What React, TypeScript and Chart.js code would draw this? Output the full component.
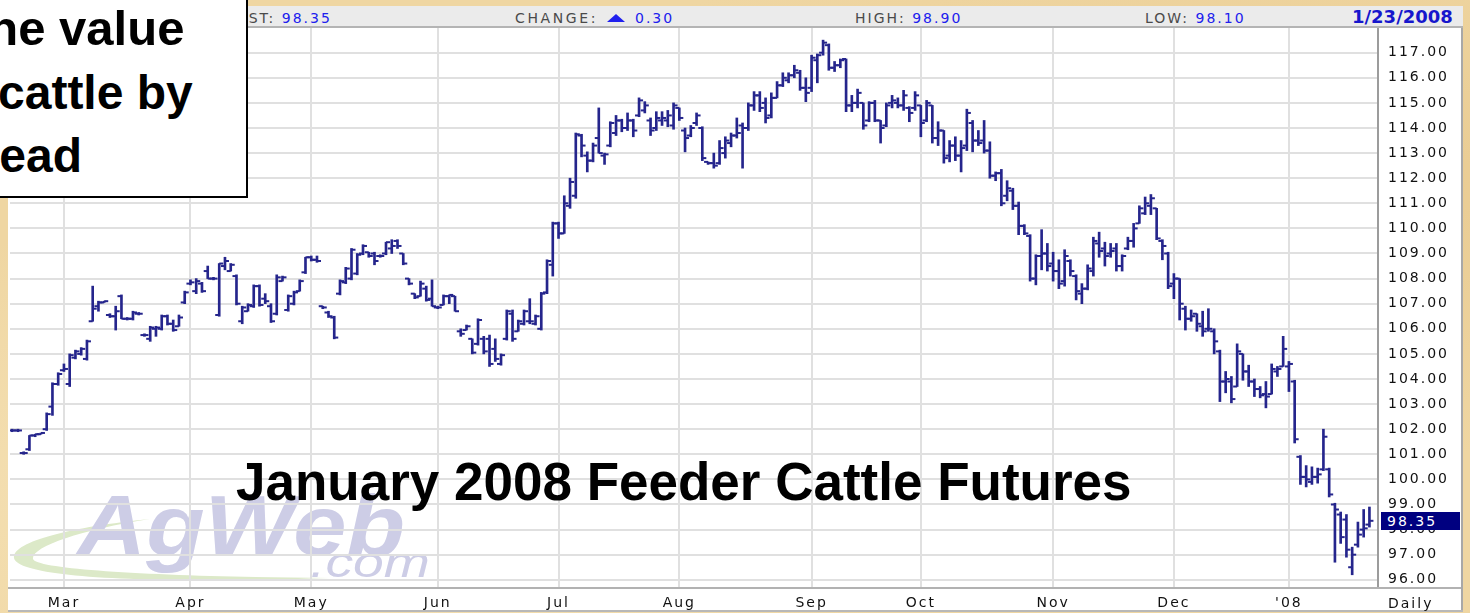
import React, { useEffect, useRef } from 'react';
import { Chart, registerables } from 'chart.js';

Chart.register(...registerables);

// Daily OHLC, January 2008 Feeder Cattle futures (trading-day index 0 = mid Feb 2007)
const opens = [
  101.95, 101.95, 101.05, 101.2, 101.75, 101.8, 102.0, 102.9, 103.8, 104.35,
  103.8, 104.85, 105.0, 104.8, 106.3, 106.9, 107.05, 106.55, 106.5, 107.3,
  106.4, 106.4, 106.6, 105.75, 105.6, 106.0, 106.0, 106.5, 106.2, 106.1,
  107.05, 107.8, 107.5, 107.8, 108.3, 108.0, 106.55, 108.5, 108.3, 108.1,
  106.3, 106.7, 106.9, 107.7, 107.2, 106.9, 106.6, 107.9, 106.75, 107.0,
  107.5, 108.25, 108.85, 108.75, 106.9, 106.65, 106.45, 107.4, 107.85, 108.0,
  108.2, 109.0, 109.05, 109.0, 108.9, 109.0, 109.2, 109.5, 109.0, 108.0,
  107.4, 107.3, 107.6, 107.2, 106.85, 106.95, 107.3, 107.3, 105.9, 105.95,
  105.6, 105.4, 105.6, 105.6, 105.2, 104.6, 105.6, 106.6, 105.9, 106.2,
  106.3, 106.2, 106.0, 107.45, 108.55, 110.2, 109.8, 110.9, 111.3, 113.7,
  112.9, 112.7, 113.6, 112.9, 113.3, 113.8, 114.3, 114.0, 114.3, 114.5,
  114.7, 114.3, 114.0, 114.3, 114.3, 114.1, 114.8, 113.9, 113.7, 114.2,
  114.0, 112.65, 112.6, 112.6, 113.0, 113.4, 113.7, 114.1, 114.0, 114.9,
  115.3, 115.0, 114.5, 115.2, 115.7, 115.9, 116.1, 116.2, 115.6, 115.6,
  116.7, 117.0, 117.3, 116.4, 116.5, 116.75, 114.9, 115.0, 115.0, 114.3,
  115.0, 114.3, 114.1, 115.0, 115.0, 114.9, 114.8, 114.8, 114.9, 114.3,
  114.9, 113.6, 113.9, 112.9, 113.3, 112.9, 113.3, 114.2, 113.5, 113.5,
  113.1, 112.1, 112.2, 111.3, 111.5, 110.9, 110.1, 109.7, 108.0, 108.9,
  109.0, 108.6, 108.3, 107.9, 108.7, 108.1, 107.4, 107.6, 108.3, 109.4,
  109.2, 109.0, 109.2, 108.5, 109.2, 109.5, 110.2, 110.6, 110.9, 110.8,
  109.5, 109.0, 107.8, 108.0, 106.8, 106.4, 106.6, 106.1, 106.0, 105.9,
  105.1, 103.9, 103.9, 103.7, 105.0, 104.3, 103.9, 103.6, 103.4, 103.4,
  104.3, 104.5, 104.5, 103.9, 100.9, 100.1, 99.9, 100.1, 100.4, 100.4,
  99.0, 98.6, 98.4, 96.5, 97.4, 98.0, 98.2,
];

const highs = [
  102.0, 102.0, 101.1, 101.75, 101.8, 101.85, 102.65, 103.85, 104.25, 104.6,
  105.0, 105.15, 105.25, 105.55, 107.7, 107.1, 107.1, 106.6, 106.9, 107.35,
  106.45, 106.7, 106.65, 105.8, 106.1, 106.1, 106.55, 106.55, 106.35, 106.55,
  107.5, 107.95, 108.0, 107.85, 108.5, 108.05, 108.6, 108.85, 108.6, 108.15,
  106.9, 107.0, 107.75, 107.75, 107.4, 107.0, 108.15, 108.1, 107.35, 107.5,
  107.95, 108.85, 108.9, 108.9, 106.9, 106.7, 106.5, 107.95, 108.45, 109.2,
  109.0, 109.35, 109.05, 109.05, 108.95, 109.45, 109.55, 109.55, 109.0, 108.0,
  107.4, 107.9, 107.7, 107.95, 106.9, 107.35, 107.35, 107.3, 106.0, 106.15,
  105.6, 106.4, 105.7, 105.75, 105.6, 105.0, 106.75, 106.75, 106.35, 106.75,
  107.2, 106.55, 107.45, 108.75, 110.25, 110.25, 111.3, 112.0, 113.8, 113.75,
  113.05, 113.4, 114.8, 113.0, 114.25, 114.5, 114.35, 114.6, 114.35, 115.2,
  115.05, 114.4, 114.65, 114.65, 114.7, 115.0, 114.8, 114.0, 114.1, 114.6,
  114.05, 112.65, 113.0, 113.5, 113.65, 113.8, 114.4, 114.2, 115.0, 115.45,
  115.45, 115.2, 115.4, 115.85, 116.2, 116.2, 116.5, 116.3, 116.0, 116.9,
  116.95, 117.5, 117.35, 116.65, 116.75, 116.75, 115.3, 115.55, 115.0, 115.05,
  115.1, 114.3, 115.0, 115.3, 115.2, 115.5, 114.85, 115.45, 114.9, 115.1,
  114.9, 114.25, 113.9, 113.5, 113.65, 113.5, 114.75, 114.3, 113.9, 114.3,
  113.45, 112.25, 112.35, 111.9, 111.6, 111.05, 110.15, 109.75, 108.95, 109.95,
  109.4, 109.05, 108.75, 109.15, 108.75, 108.15, 107.8, 108.55, 109.65, 109.85,
  109.45, 109.4, 109.4, 108.95, 109.65, 110.2, 110.9, 111.25, 111.35, 110.8,
  109.55, 109.05, 108.2, 108.0, 106.9, 106.75, 106.6, 106.7, 106.8, 106.0,
  105.15, 104.3, 104.1, 105.4, 105.0, 104.55, 104.0, 103.7, 103.9, 104.6,
  104.5, 105.7, 104.7, 103.95, 100.95, 100.55, 100.5, 100.45, 102.0, 100.45,
  99.05, 98.7, 98.6, 97.3, 98.3, 98.8, 98.9,
];

const lows = [
  101.9, 101.9, 101.0, 101.15, 101.7, 101.8, 101.95, 102.55, 103.75, 104.3,
  103.7, 104.8, 104.95, 104.75, 106.3, 106.7, 107.05, 106.45, 105.95, 106.4,
  106.35, 106.35, 106.55, 105.7, 105.5, 105.7, 105.95, 106.15, 105.9, 106.1,
  107.0, 107.75, 107.4, 107.45, 108.0, 107.95, 106.5, 108.35, 108.3, 106.95,
  106.2, 106.7, 106.85, 106.9, 107.0, 106.25, 106.55, 107.9, 106.7, 106.95,
  107.5, 108.2, 108.7, 108.65, 106.8, 106.45, 105.6, 107.35, 107.8, 107.95,
  108.15, 108.95, 108.85, 108.55, 108.85, 108.95, 109.0, 109.2, 108.55, 107.75,
  107.2, 107.3, 107.1, 106.9, 106.8, 106.95, 107.0, 106.7, 105.7, 105.95,
  105.0, 105.35, 105.0, 104.5, 104.7, 104.55, 105.55, 105.5, 105.9, 106.15,
  106.2, 106.15, 105.95, 107.4, 108.1, 109.6, 109.8, 110.8, 111.2, 112.85,
  112.25, 112.65, 113.0, 112.55, 113.25, 113.7, 113.85, 113.9, 113.65, 114.45,
  114.6, 113.7, 113.9, 114.1, 114.05, 113.95, 114.3, 113.05, 113.65, 114.1,
  112.7, 112.55, 112.4, 112.55, 112.8, 113.25, 113.6, 112.4, 113.9, 114.7,
  114.65, 114.2, 114.4, 115.2, 115.65, 115.8, 116.0, 115.5, 115.05, 115.45,
  115.8, 116.9, 116.3, 116.25, 116.4, 114.65, 114.65, 114.8, 113.95, 114.25,
  114.25, 113.4, 114.05, 114.8, 114.8, 114.7, 114.25, 114.7, 113.65, 114.25,
  113.4, 113.3, 112.6, 112.65, 112.7, 112.25, 113.1, 113.05, 113.3, 113.0,
  112.0, 111.9, 110.9, 111.1, 110.75, 109.75, 109.75, 107.9, 107.75, 108.35,
  108.3, 107.9, 107.6, 107.7, 108.1, 107.15, 107.0, 107.55, 108.1, 108.85,
  108.5, 108.85, 108.3, 108.3, 109.15, 109.25, 110.2, 110.55, 110.55, 109.55,
  108.75, 107.6, 107.2, 106.35, 105.95, 106.3, 105.9, 105.7, 105.9, 105.0,
  103.1, 103.45, 103.05, 103.7, 103.95, 103.7, 103.3, 103.25, 102.85, 103.4,
  104.1, 104.5, 103.5, 101.45, 99.8, 99.7, 99.8, 99.85, 100.35, 99.3,
  96.7, 97.45, 96.9, 96.2, 97.3, 97.7, 98.1,
];

const closes = [
  101.95, 101.95, 101.05, 101.75, 101.8, 101.85, 102.6, 103.8, 104.2, 104.4,
  104.95, 105.1, 105.2, 105.5, 106.8, 107.05, 107.1, 106.5, 106.7, 106.4,
  106.4, 106.65, 106.6, 105.75, 106.05, 106.05, 106.5, 106.2, 105.95, 106.45,
  107.45, 107.85, 107.9, 107.5, 108.0, 108.0, 108.6, 108.7, 108.55, 107.0,
  106.85, 106.95, 107.7, 106.95, 107.1, 106.3, 108.05, 108.05, 107.3, 107.45,
  107.9, 108.85, 108.75, 108.7, 106.85, 106.5, 105.65, 107.9, 108.4, 109.15,
  108.95, 109.3, 108.9, 108.7, 108.9, 109.45, 109.3, 109.3, 108.6, 107.8,
  107.25, 107.8, 107.15, 106.9, 106.85, 107.3, 107.35, 106.7, 105.8, 106.1,
  105.05, 106.35, 105.1, 104.6, 104.8, 104.95, 106.7, 105.6, 106.3, 106.7,
  106.3, 106.5, 107.4, 108.7, 110.2, 109.8, 111.0, 111.85, 113.75, 113.3,
  112.7, 113.3, 113.0, 112.95, 114.2, 114.3, 114.0, 114.3, 113.9, 115.1,
  114.9, 113.9, 114.4, 114.4, 114.5, 114.9, 114.4, 113.6, 114.0, 114.5,
  112.8, 112.6, 112.5, 113.2, 113.5, 113.7, 113.8, 114.0, 114.9, 115.3,
  114.8, 114.4, 115.2, 115.7, 116.0, 116.1, 116.3, 115.6, 115.4, 116.8,
  116.9, 117.4, 116.4, 116.5, 116.7, 114.9, 115.0, 115.4, 114.1, 115.0,
  114.3, 114.0, 114.9, 115.1, 114.9, 115.3, 114.6, 115.3, 114.2, 115.0,
  113.6, 113.9, 112.8, 113.3, 112.9, 113.2, 114.6, 113.5, 113.4, 113.1,
  112.1, 112.2, 111.0, 111.6, 110.9, 110.1, 109.8, 108.0, 108.9, 109.0,
  108.5, 108.3, 107.8, 108.9, 108.3, 107.5, 107.6, 108.4, 109.5, 109.1,
  108.9, 109.1, 108.5, 108.9, 109.5, 110.0, 110.8, 111.0, 111.2, 109.6,
  109.3, 107.7, 108.0, 107.0, 106.4, 106.5, 106.2, 105.9, 106.0, 105.5,
  103.9, 104.0, 103.2, 105.1, 104.3, 103.9, 103.6, 103.35, 103.3, 104.4,
  104.4, 105.2, 104.6, 101.6, 100.1, 100.0, 100.1, 100.2, 101.7, 99.4,
  98.8, 97.7, 97.2, 97.0, 97.8, 98.05, 98.35,
];

// first trading day of each month (index into the arrays above)
const monthStarts = [9, 31, 52, 74, 95, 116, 139, 158, 181, 202, 222];
const monthLabels = ['Mar', 'Apr', 'May', 'Jun', 'Jul', 'Aug', 'Sep', 'Oct', 'Nov', 'Dec', "'08"];
const priceTicks = [96, 97, 98, 99, 100, 101, 102, 103, 104, 105, 106, 107, 108, 109, 110, 111, 112, 113, 114, 115, 116, 117];

const quoteLast = '98.35';
const quoteChange = '0.30';
const quoteHigh = '98.90';
const quoteLow = '98.10';
const quoteDate = '1/23/2008';

const BAR = '#25258c';
const AXIS_FONT = "'DejaVu Sans', Verdana, sans-serif";

const spacingPlugin = {
  id: 'letterSpacing',
  beforeDraw(chart: any) {
    try { (chart.ctx as any).letterSpacing = '2px'; } catch (e) { /* ignore */ }
  },
};

const zeroPadding = (axis: any) => {
  axis.paddingTop = 0;
  axis.paddingBottom = 0;
  axis.paddingLeft = 0;
  axis.paddingRight = 0;
};

export default function App() {
  const ref = useRef<HTMLCanvasElement | null>(null);

  useEffect(() => {
    if (!ref.current) return;
    const chart = new Chart(ref.current, {
      type: 'bar',
      data: {
        datasets: [
          {
            type: 'bar',
            data: highs.map((h, i) => ({ x: i, y: [lows[i], h] })),
            backgroundColor: BAR,
            borderWidth: 0,
            barThickness: 2,
          } as any,
          {
            type: 'line',
            data: opens.map((o, i) => ({ x: i - 0.35, y: o })),
            showLine: false,
            pointStyle: 'line',
            pointRadius: 2,
            pointHoverRadius: 2,
            pointBorderWidth: 2,
            pointBorderColor: BAR,
            pointBackgroundColor: BAR,
            borderColor: BAR,
          } as any,
          {
            type: 'line',
            data: closes.map((c, i) => ({ x: i + 0.35, y: c })),
            showLine: false,
            pointStyle: 'line',
            pointRadius: 2,
            pointHoverRadius: 2,
            pointBorderWidth: 2,
            pointBorderColor: BAR,
            pointBackgroundColor: BAR,
            borderColor: BAR,
          } as any,
        ],
      },
      options: {
        responsive: false,
        animation: false,
        devicePixelRatio: 1,
        events: [],
        layout: { padding: 0, autoPadding: false },
        plugins: { legend: { display: false }, tooltip: { enabled: false } },
        scales: {
          x: {
            type: 'linear',
            min: -0.38,
            max: 237.49,
            offset: false,
            grid: { color: '#e0e0e0', lineWidth: 2, drawTicks: false, offset: false },
            border: { display: false },
            afterBuildTicks: (axis: any) => {
              axis.ticks = monthStarts.map((v) => ({ value: v }));
            },
            afterFit: (axis: any) => {
              axis.height = 24;
              zeroPadding(axis);
            },
            ticks: {
              autoSkip: false,
              maxRotation: 0,
              padding: 7,
              color: '#111',
              font: { family: AXIS_FONT, size: 14 },
              callback: (v: any) => {
                const k = monthStarts.indexOf(Number(v));
                return k >= 0 ? monthLabels[k] : '';
              },
            },
          },
          y: {
            type: 'linear',
            position: 'right',
            min: 95.673,
            max: 117.984,
            grid: { color: '#e0e0e0', lineWidth: 2, drawTicks: false },
            border: { display: true, color: '#9c9c9c', width: 2 },
            afterBuildTicks: (axis: any) => {
              axis.ticks = priceTicks.map((v) => ({ value: v }));
            },
            afterFit: (axis: any) => {
              axis.width = 85;
              zeroPadding(axis);
            },
            ticks: {
              autoSkip: false,
              padding: 10,
              color: '#111',
              font: { family: AXIS_FONT, size: 14 },
              callback: (v: any) => Number(v).toFixed(2),
            },
          },
        },
      } as any,
      plugins: [spacingPlugin as any],
    });
    return () => chart.destroy();
  }, []);

  const hdr: React.CSSProperties = {
    position: 'absolute',
    top: 8,
    lineHeight: '20px',
    fontFamily: AXIS_FONT,
    fontSize: 14,
    letterSpacing: '2px',
    whiteSpace: 'nowrap',
    color: '#4a4a4a',
  };
  const blue = '#2020ee';
  const big: React.CSSProperties = {
    position: 'absolute',
    fontFamily: "'Liberation Sans', Arial, sans-serif",
    fontWeight: 'bold',
    fontSize: 48,
    lineHeight: '48px',
    whiteSpace: 'nowrap',
    color: '#000',
  };

  return (
    <div
      style={{
        position: 'absolute',
        left: 0,
        top: 0,
        width: 1470,
        height: 613,
        overflow: 'hidden',
        background:
          'radial-gradient(ellipse at 20% 80%, #f6e3b8 0%, rgba(246,227,184,0) 40%), radial-gradient(ellipse at 90% 30%, #e9cb92 0%, rgba(233,203,146,0) 45%), #efd6a2',
      }}
    >
      {/* chart panel */}
      <div
        style={{
          position: 'absolute',
          left: 8,
          top: 6,
          width: 1455,
          height: 606,
          background: '#fff',
          borderRight: '2px solid #a8a8a8',
          boxSizing: 'border-box',
        }}
      />

      {/* AgWeb watermark */}
      <svg style={{ position: 'absolute', left: 0, top: 0 }} width={1470} height={613}>
        <path
          d="M 150 519 C 70 527, 12 542, 14 558 C 18 578, 150 584, 330 578 C 170 577, 36 570, 33 559 C 31 547, 80 530, 150 519 Z"
          fill="#dce9c8"
        />
        <text
          x={77}
          y={555}
          fontFamily="'Liberation Sans', Arial, sans-serif"
          fontWeight="bold"
          fontStyle="italic"
          fontSize={86}
          textLength={328}
          lengthAdjust="spacingAndGlyphs"
          fill="#cdcde6"
        >
          AgWeb
        </text>
        <text
          x={310}
          y={577}
          fontFamily="'Liberation Sans', Arial, sans-serif"
          fontStyle="italic"
          fontSize={42}
          textLength={120}
          lengthAdjust="spacingAndGlyphs"
          fill="#cdcde6"
        >
          .com
        </text>
      </svg>

      <canvas
        ref={ref}
        width={1453}
        height={584}
        style={{ position: 'absolute', left: 10, top: 28, width: 1453, height: 584 }}
      />

      {/* bottom axis strip lines */}
      <div style={{ position: 'absolute', left: 8, top: 587, width: 1453, height: 2, background: '#b2b2b2' }} />
      <div style={{ position: 'absolute', left: 8, top: 610, width: 1455, height: 2, background: '#b8b8b8' }} />

      {/* header bar */}
      <div
        style={{
          position: 'absolute',
          left: 8,
          top: 6,
          width: 1455,
          height: 20,
          background: '#ebebeb',
          borderBottom: '2px solid #b4b4b4',
        }}
      />
      <div style={{ ...hdr, left: 227 }}>
        LAST: <span style={{ color: blue }}>{quoteLast}</span>
      </div>
      <div style={{ ...hdr, left: 515, letterSpacing: '2.6px' }}>CHANGE:</div>
      <div
        style={{
          position: 'absolute',
          left: 607,
          top: 14,
          width: 0,
          height: 0,
          borderLeft: '9px solid transparent',
          borderRight: '9px solid transparent',
          borderBottom: '8px solid ' + blue,
        }}
      />
      <div style={{ ...hdr, left: 635, color: blue }}>{quoteChange}</div>
      <div style={{ ...hdr, left: 855 }}>
        HIGH: <span style={{ color: blue }}>{quoteHigh}</span>
      </div>
      <div style={{ ...hdr, left: 1145 }}>
        LOW: <span style={{ color: blue }}>{quoteLow}</span>
      </div>
      <div
        style={{
          ...hdr,
          left: 1352,
          top: 7,
          fontSize: 18,
          fontWeight: 'bold',
          letterSpacing: '0px',
          color: '#1616cc',
        }}
      >
        {quoteDate}
      </div>

      {/* last price marker on the price axis */}
      <div
        style={{
          position: 'absolute',
          left: 1381,
          top: 512,
          width: 79,
          height: 18,
          background: '#000080',
          color: '#fff',
          fontFamily: AXIS_FONT,
          fontSize: 14,
          letterSpacing: '2px',
          lineHeight: '18px',
          paddingLeft: 6,
          boxSizing: 'border-box',
        }}
      >
        {quoteLast}
      </div>
      <div
        style={{
          position: 'absolute',
          left: 1388,
          top: 595,
          fontFamily: AXIS_FONT,
          fontSize: 14,
          letterSpacing: '2px',
          lineHeight: '16px',
          color: '#111',
        }}
      >
        Daily
      </div>

      {/* chart title */}
      <div
        style={{
          ...big,
          left: 236,
          top: 455,
          fontSize: 53,
          lineHeight: '53px',
        }}
      >
        January 2008 Feeder Cattle Futures
      </div>

      {/* slide text box, partly off the left edge */}
      <div
        style={{
          position: 'absolute',
          left: -10,
          top: -10,
          width: 258,
          height: 208,
          boxSizing: 'border-box',
          border: '2px solid #000',
          background: '#fff',
        }}
      />
      <div style={{ ...big, left: -28, top: 4, fontSize: 49, lineHeight: '49px' }}>the value</div>
      <div style={{ ...big, left: -2, top: 69 }}>cattle by</div>
      <div style={{ ...big, left: -30, top: 132 }}>head</div>
    </div>
  );
}
